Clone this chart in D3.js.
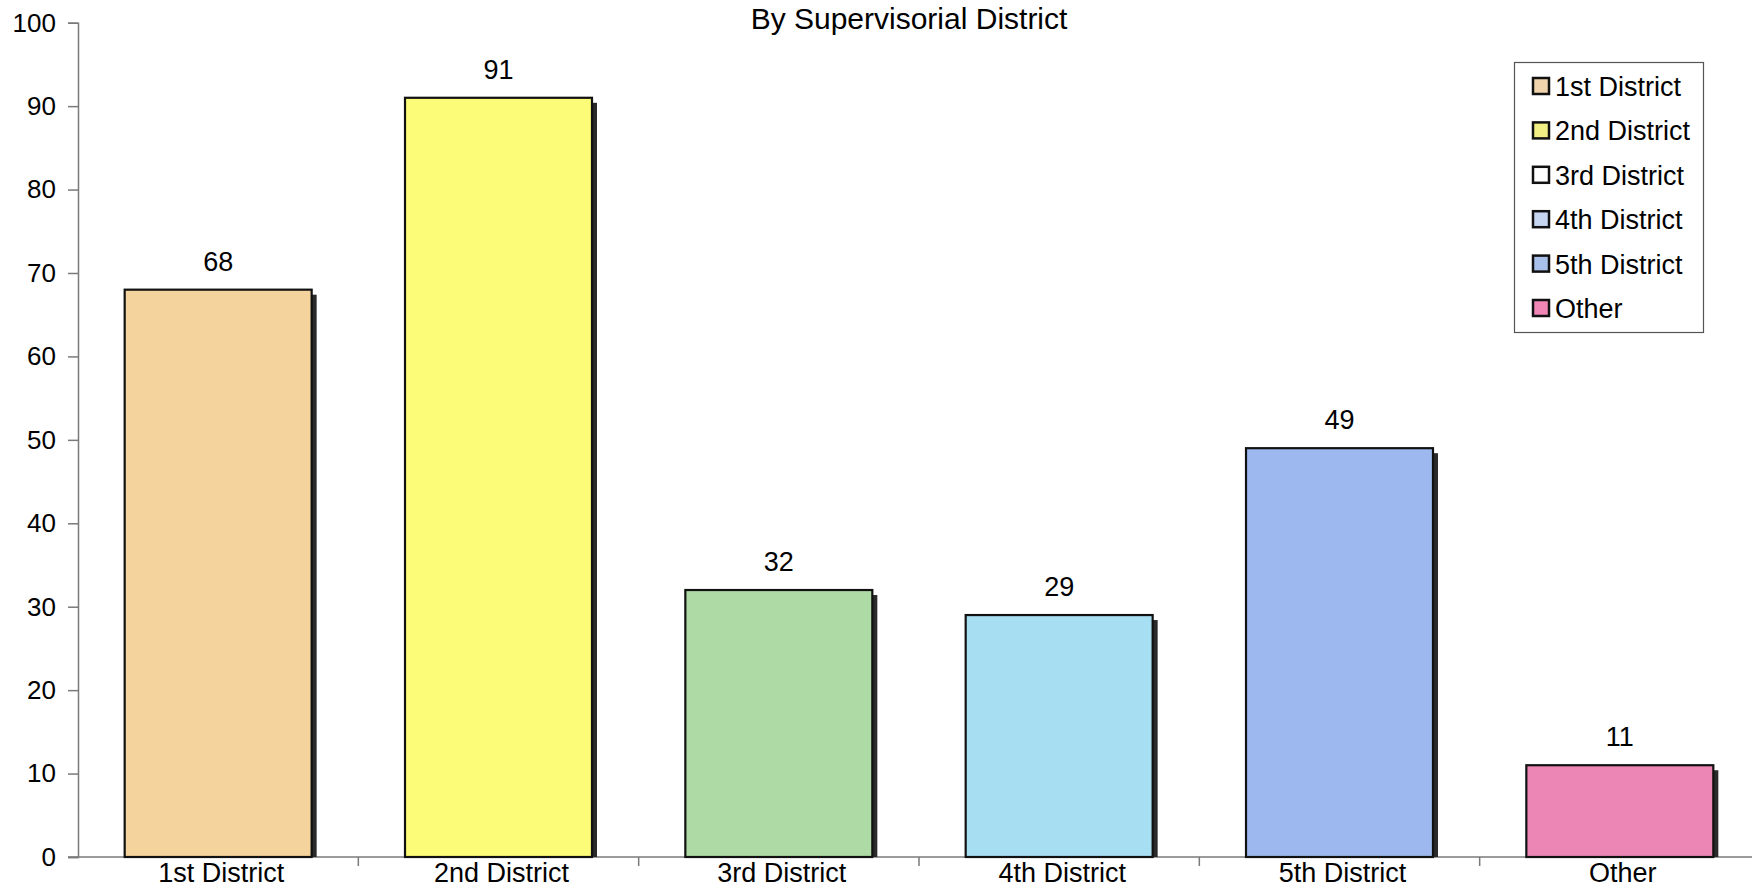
<!DOCTYPE html>
<html>
<head>
<meta charset="utf-8">
<script src="https://cdn.jsdelivr.net/npm/d3@7"></script>
<style>
  html, body { margin: 0; padding: 0; background: #ffffff; }
  svg { display: block; font-family: "Liberation Sans", Arial, sans-serif; }
</style>
</head>
<body>
<svg id="chart" width="1752" height="889"></svg>
<script>
// Counts by supervisorial district
const categories = ["1st District", "2nd District", "3rd District", "4th District", "5th District", "Other"];
const values = [68, 91, 32, 29, 49, 11];
const barColors = ["#f5d39c", "#fdfc78", "#aedba5", "#a7def2", "#9db8ee", "#ec87b5"];
const legendColors = ["#f1d3ad", "#f2f085", "#ffffff", "#c6d6f1", "#a9c0ea", "#ef86b6"];
const yTicks = [0, 10, 20, 30, 40, 50, 60, 70, 80, 90, 100];
const title = "By Supervisorial District";

const svg = d3.select("#chart");

const x = d3.scaleBand()
  .domain(categories)
  .range([78, 1760])
  .paddingInner(0.333)
  .paddingOuter(0.1665);

const y = d3.scaleLinear().domain([0, 100]).range([857, 22.7]);

// Title along the top edge
svg.append("text")
  .attr("x", 909).attr("y", 29)
  .attr("text-anchor", "middle")
  .attr("font-size", 30)
  .attr("fill", "#000")
  .text(title);

// Y axis
const yAxis = svg.append("g")
  .attr("transform", "translate(78,0)")
  .call(d3.axisLeft(y).tickValues(yTicks).tickSize(10).tickPadding(12));
yAxis.select(".domain").attr("stroke", "#7a7a7a").attr("stroke-width", 1.5);
yAxis.selectAll(".tick line").attr("stroke", "#7a7a7a").attr("stroke-width", 1.5);
yAxis.selectAll(".tick text")
  .attr("font-size", 26).attr("fill", "#000")
  .attr("font-family", "Liberation Sans, Arial, sans-serif");

// X axis baseline and category separators
const step = x.step();
const boundaries = categories.map(c => x(c) - step * x.paddingInner() / 2).slice(1);
svg.append("line")
  .attr("x1", 68).attr("x2", 1752)
  .attr("y1", y(0)).attr("y2", y(0))
  .attr("stroke", "#7a7a7a").attr("stroke-width", 1.5);
svg.selectAll(".sep").data(boundaries).join("line")
  .attr("class", "sep")
  .attr("x1", d => d).attr("x2", d => d)
  .attr("y1", y(0)).attr("y2", y(0) + 9)
  .attr("stroke", "#7a7a7a").attr("stroke-width", 1.5);

svg.selectAll(".cat").data(categories).join("text")
  .attr("class", "cat")
  .attr("x", d => x(d) + x.bandwidth() / 2 + 3)
  .attr("y", 882)
  .attr("text-anchor", "middle")
  .attr("font-size", 27)
  .attr("fill", "#000")
  .text(d => d);

// Bars with drop shadow
const data = categories.map((c, i) => ({ c, v: values[i], color: barColors[i] }));

svg.selectAll(".shadow").data(data).join("rect")
  .attr("class", "shadow")
  .attr("x", d => x(d.c) + 5)
  .attr("y", d => y(d.v) + 5)
  .attr("width", x.bandwidth())
  .attr("height", d => y(0) - y(d.v) - 5)
  .attr("fill", "#2a2a2a");

svg.selectAll(".bar").data(data).join("rect")
  .attr("class", "bar")
  .attr("x", d => x(d.c))
  .attr("y", d => y(d.v))
  .attr("width", x.bandwidth())
  .attr("height", d => y(0) - y(d.v))
  .attr("fill", d => d.color)
  .attr("stroke", "#111")
  .attr("stroke-width", 2.2);

svg.selectAll(".val").data(data).join("text")
  .attr("class", "val")
  .attr("x", d => x(d.c) + x.bandwidth() / 2)
  .attr("y", d => y(d.v) - 19)
  .attr("text-anchor", "middle")
  .attr("font-size", 27)
  .attr("fill", "#000")
  .text(d => d.v);

// Legend
const legend = svg.append("g");
legend.append("rect")
  .attr("x", 1514.5).attr("y", 62.5)
  .attr("width", 189).attr("height", 270)
  .attr("fill", "#fff")
  .attr("stroke", "#555").attr("stroke-width", 1.2);

const rowY = d3.scalePoint().domain(categories).range([86, 308]);
const rows = legend.selectAll(".lg").data(categories).join("g")
  .attr("class", "lg")
  .attr("transform", d => `translate(0,${rowY(d)})`);
rows.append("rect")
  .attr("x", 1533).attr("y", -8)
  .attr("width", 16).attr("height", 16)
  .attr("fill", (d, i) => legendColors[i])
  .attr("stroke", "#111").attr("stroke-width", 2.5);
rows.append("text")
  .attr("x", 1555).attr("y", 10)
  .attr("font-size", 27)
  .attr("fill", "#000")
  .text(d => d);
</script>
</body>
</html>
